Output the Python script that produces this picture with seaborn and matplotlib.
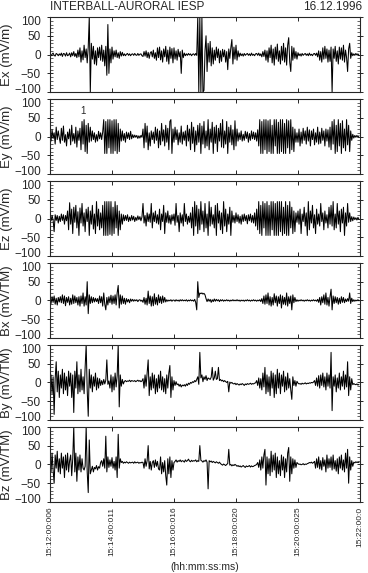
import numpy as np
import pandas as pd
import matplotlib
matplotlib.use("Agg")
import matplotlib.pyplot as plt
import matplotlib.transforms as mtransforms
import seaborn as sns
from matplotlib.ticker import MultipleLocator

# ---------------- data ----------------
panel_labels = ["Ex (mV/m)", "Ey (mV/m)", "Ez (mV/m)", "Bx (mV/TM)", "By (mV/TM)", "Bz (mV/TM)"]
time_tick_labels = ["15:12:00:006", "15:14:00:011", "15:16:00:016",
                    "15:18:00:020", "15:20:00:025", "15:22:00:0"]
time_tick_seconds = [0, 120, 240, 360, 480, 600]
sample_step_s = 2

ex = [2,-3,1,4,-2,-4,3,1,-3,2,
      -2,4,-5,3,2,-4,5,-3,-1,4,
      -6,5,-3,8,-5,3,-8,12,-6,18,
      -20,10,-14,25,-8,15,-22,20,100,-100,
      30,-12,22,-25,10,-28,18,-8,20,-15,
      25,-18,12,-30,22,-55,80,-50,15,-22,
      20,-12,10,-6,12,-8,5,-10,8,-4,
      6,-3,2,-3,1,3,-2,2,-3,1,
      2,-2,3,-1,-2,3,-2,1,2,-3,
      -5,8,-4,10,-8,6,-10,4,8,-6,
      12,-10,5,-15,18,-8,20,-14,10,-20,
      15,-6,22,-18,12,-25,20,-10,16,-22,
      18,-12,10,-15,14,-6,8,-50,12,-8,
      4,-3,2,-2,3,-1,2,-3,1,2,
      -2,3,-2,100,-100,100,-100,100,-100,-95,
      10,50,-45,30,-20,35,-30,18,-25,12,
      -15,20,-8,15,-22,10,-18,14,-6,12,
      -20,8,-40,15,-10,18,40,-25,20,-12,
      25,-15,10,-6,4,-3,2,-4,3,-2,
      1,3,-2,2,-3,4,-2,1,-3,2,
      3,-2,4,-3,2,-6,8,-5,12,-15,
      10,-20,18,-8,25,-22,15,-28,20,-12,
      28,-18,10,-25,22,-15,30,-20,18,-28,
      25,45,-20,-45,22,-15,18,-10,8,-12,
      5,-3,2,-4,3,-2,1,3,-2,2,
      -3,4,-2,1,-3,2,3,-2,4,-6,
      10,-15,8,-20,18,-12,22,-10,15,-20,
      12,-18,20,-100,15,-10,22,-18,10,-25,
      20,-12,18,-15,25,-20,12,-8,-45,15,
      30,-10,5,-3,2,-2,3,-1,2,-2]

ey = [3,-12,18,-5,10,-20,25,-8,15,-3,
      -18,22,-10,28,-15,5,-25,12,-6,20,
      -22,30,-12,8,-18,25,-28,15,-10,22,
      -35,40,-20,45,-40,30,-45,35,-15,25,
      -12,15,-8,10,-15,5,-12,14,-6,10,
      -8,12,45,-45,40,-45,45,-30,45,-45,
      42,-45,45,-38,45,-45,35,-40,20,-12,
      15,-10,8,-15,12,-5,10,-8,14,-6,
      5,-3,4,-2,3,-5,2,-4,3,-2,
      20,-30,35,-15,28,-35,10,-25,15,-8,
      12,-18,25,-10,20,-30,15,-22,35,-12,
      18,-25,30,-15,22,-35,40,45,-45,20,
      -15,25,-8,18,-22,10,-15,28,-20,12,
      -10,15,-25,30,-12,20,-35,38,-18,25,
      -40,15,-22,30,-15,35,-45,28,-20,40,
      -30,15,-25,45,-35,20,-15,38,-45,25,
      -18,30,-40,22,-12,35,-28,45,-30,15,
      -20,40,-45,25,-15,30,-22,18,-35,42,
      -25,20,-12,10,-8,15,-12,6,-10,14,
      -5,12,-15,8,-10,15,-6,12,-8,10,
      -12,18,-25,45,-45,40,-45,45,-35,45,
      -45,42,-40,45,-45,30,-45,45,-25,45,
      -45,38,-45,45,-40,45,-45,35,-45,45,
      -30,42,-45,45,-35,25,-40,20,-15,10,
      -15,20,-25,12,-18,22,-10,15,-20,25,
      -12,18,-25,15,-8,20,-22,10,-15,25,
      -20,12,-18,22,-10,15,-25,20,-12,18,
      -28,25,-35,40,-20,45,-45,30,-40,45,
      -25,35,-45,42,-30,20,-38,45,-22,30,
      -40,15,-10,6,-4,3,-2,3,-1,2]

ez = [3,-6,8,-4,-35,10,-5,8,-12,6,
      -8,12,-5,10,-15,8,-6,20,-30,42,
      -15,25,-40,30,-10,35,-25,18,-45,28,
      -12,40,-20,15,-35,25,-8,30,-45,20,
      -15,35,-28,12,-40,45,-20,25,-30,15,
      -25,35,-45,45,-45,45,-45,45,-42,45,
      -45,30,-40,45,-25,35,-45,20,-30,12,
      -15,10,-6,8,-5,10,-8,4,-6,8,
      -4,6,-8,3,-5,7,-3,5,-6,4,
      40,-12,8,-20,15,-8,12,-10,40,-25,
      15,-8,20,-12,10,-15,25,-30,12,-8,
      35,-40,15,-10,20,-12,8,-15,10,-6,
      12,-18,40,-10,8,-35,15,-12,10,-20,
      40,-8,12,-15,6,-10,15,-25,30,-45,
      45,-20,35,-40,25,-30,45,-15,20,-35,
      40,-25,12,-45,45,-20,30,-15,10,-25,
      35,-45,40,-12,20,-30,15,-40,45,-20,
      25,-35,12,-15,30,-45,20,-10,8,-12,
      15,-8,10,-12,6,-15,10,-8,12,-6,
      8,-14,10,-6,12,-10,8,-12,15,-20,
      25,-30,45,-40,35,-45,45,-25,40,-45,
      45,-45,35,-45,45,-30,45,-45,40,-45,
      45,-45,45,-35,45,-45,30,-40,45,-45,
      35,-45,45,-25,30,-40,20,-35,15,-10,
      20,-15,25,-40,12,-8,30,-20,15,-45,
      45,-30,20,-12,35,-25,10,-40,25,-15,
      12,-20,40,-8,15,-30,20,-12,10,-25,
      30,-15,35,-20,45,-30,12,-25,40,-15,
      20,-35,25,-12,30,-45,15,-20,40,-10,
      15,-8,5,-6,4,-3,2,-4,3,-2]

bx = [2,-8,10,-5,12,-10,6,-12,8,-4,
      10,-6,15,-8,12,-14,8,-5,10,-12,
      6,-10,15,-8,12,-6,8,-12,10,-15,
      12,-8,20,-15,10,-12,50,-35,15,-8,
      10,-6,8,-4,6,-3,5,-8,12,-6,
      10,-15,20,-10,-25,8,-12,10,-6,14,
      -10,12,-8,15,-12,20,40,-20,15,-10,
      12,-8,6,-10,5,-4,3,-6,4,-2,
      3,-2,2,-1,2,-3,1,2,-2,1,
      -5,8,-10,6,-12,25,-8,12,-15,10,
      -14,18,-10,8,-12,15,-6,10,-8,12,
      -5,8,-4,2,-2,1,-1,2,-2,1,
      1,-2,2,-1,1,-2,2,-1,2,-1,
      1,-1,2,-2,1,-1,2,-1,1,-2,
      3,-5,-25,50,8,20,18,20,17,19,
      15,5,-3,4,-2,3,-5,2,-3,4,
      -2,3,-1,2,-3,2,-1,2,-2,1,
      -1,2,-1,1,-2,1,-1,2,-1,1,
      -1,2,-1,1,-2,1,-1,1,-2,1,
      -1,2,-1,1,-2,1,-1,2,-1,1,
      -2,1,-1,2,-3,5,-8,12,-10,15,
      -8,20,-12,10,-15,8,-12,18,-6,12,
      -15,10,-8,15,-20,12,-10,8,-12,20,
      -15,10,-8,12,-25,15,-6,8,-3,2,
      -2,1,-1,2,-1,1,-2,1,-1,2,
      -1,1,-2,1,-1,2,-1,1,-2,3,
      -5,8,-12,10,-6,15,-10,20,-12,8,
      -15,10,30,-25,12,-8,10,-6,8,-10,
      6,-8,10,-5,8,-6,4,-3,5,-2,
      20,-8,6,-3,2,-2,1,-1,2,-1]

by = [-5,20,-30,15,-85,10,55,-25,30,-40,
      20,-15,35,-30,25,-20,15,-35,30,-10,
      25,-40,20,-80,30,-15,55,-30,20,-25,
      35,-20,15,-30,40,100,-20,-90,35,-15,
      20,-25,15,-10,25,-20,12,-15,10,-8,
      5,-6,8,-4,6,60,-5,4,-15,20,
      -25,15,-20,25,-12,18,100,-65,20,-10,
      8,-4,3,5,2,4,3,6,2,5,
      4,3,5,2,4,6,3,5,2,4,
      10,-15,20,-10,25,60,-35,15,-20,25,
      -15,20,-30,10,-25,20,-15,30,-20,15,
      -25,10,-30,20,-15,25,45,-40,15,-20,
      5,-8,2,-6,-4,-10,-5,-12,-7,-9,
      -6,-10,-4,-8,-2,-5,0,-2,2,0,
      5,2,8,15,-5,80,12,20,2,15,
      8,18,5,12,10,8,14,40,6,12,
      30,8,10,40,5,8,4,6,2,5,
      2,0,3,-25,1,-2,0,-3,-4,-2,
      -6,-3,-5,-7,-4,-6,-3,-5,-8,-4,
      -6,-3,-5,-4,-2,-5,-3,-4,-2,-1,
      5,-8,12,-15,10,-20,25,-12,40,-30,
      20,-25,15,-35,30,-15,25,-40,20,-30,
      35,-15,25,-30,20,-10,30,-25,15,-20,
      25,-15,10,-20,-45,15,-8,5,-10,3,
      -2,-4,-3,-5,-2,-4,-3,-1,-4,-2,
      -3,-1,-2,0,-1,1,5,-8,12,-10,
      18,-15,20,-8,25,-12,15,-20,25,-10,
      20,-15,80,-75,15,-10,20,-25,12,-15,
      25,-20,15,-10,30,-18,20,-12,55,-35,
      15,-20,10,-6,-3,-5,-6,-4,-7,-5]

bz = [10,-20,30,-15,-50,25,-10,35,-20,15,
      -25,30,-10,20,-35,25,-15,30,-20,10,
      25,-30,15,100,-20,30,-45,20,-15,25,
      -20,15,-10,-15,-5,100,-20,-75,65,-25,
      -15,-5,-20,-8,-12,-3,-15,-6,-10,5,
      10,-5,15,-10,75,-20,20,-8,12,-5,
      18,-10,8,-15,20,-35,80,-10,15,5,
      8,3,6,4,7,5,3,6,4,5,
      6,3,7,4,5,6,3,5,4,6,
      5,-10,15,-5,10,50,-12,8,-15,5,
      10,-8,12,-5,8,-12,-15,20,-25,5,
      -20,10,-30,-55,15,-25,20,-35,10,-15,
      5,8,12,6,10,8,12,7,10,9,
      6,12,8,10,14,9,7,11,8,10,
      9,12,7,10,8,50,11,9,6,10,
      8,12,6,-65,10,7,9,5,8,6,
      4,7,5,3,6,2,0,-2,1,-1,
      -3,0,2,40,-2,0,-4,-1,-3,0,
      -2,-5,-3,-6,-4,-7,-5,-3,-6,-8,
      -4,-6,-5,-3,-7,-4,-6,-5,-3,-2,
      0,5,-8,12,-15,20,-10,25,40,-55,
      20,-25,15,-30,35,-20,25,-15,30,-35,
      20,-25,10,-30,25,-15,20,-35,15,-20,
      30,45,-45,20,-25,15,-10,12,-8,5,
      2,0,1,-1,0,2,-1,1,0,2,
      3,5,4,6,3,5,8,-10,15,-8,
      20,-12,10,-15,18,-5,12,-20,25,-10,
      15,-8,20,-15,25,-12,10,-18,15,-25,
      20,-10,25,-15,12,-20,30,-10,40,-50,
      20,-15,10,-5,6,4,7,5,6,5]

series = [ex, ey, ez, bx, by, bz]
annotation_text = "1"
annotation_t, annotation_v = 64, 55

# ---------------- plotting ----------------
sns.set_theme(style="ticks")
plt.rcParams['font.family'] = ['Liberation Sans', 'DejaVu Sans']
plt.rcParams['axes.linewidth'] = 0.8

fig = plt.figure(figsize=(3.68, 5.73), dpi=100)
gs = fig.add_gridspec(6, 1, left=50/368, right=360/368,
                      top=1 - 17/573, bottom=1 - 502/573, hspace=0.09)

for i, (vals, lab) in enumerate(zip(series, panel_labels)):
    ax = fig.add_subplot(gs[i, 0])
    df = pd.DataFrame({"t": np.arange(len(vals)) * sample_step_s, "v": vals})
    sns.lineplot(data=df, x="t", y="v", ax=ax, color="black", linewidth=0.75,
                 estimator=None, sort=False)
    ax.set_xlim(time_tick_seconds[0], time_tick_seconds[-1])
    ax.set_ylim(-100, 100)
    ax.set_yticks([-100, -50, 0, 50, 100])
    ax.yaxis.set_minor_locator(MultipleLocator(10))
    ax.set_xticks(time_tick_seconds)
    ax.tick_params(axis='y', which='major', direction='inout', length=5, width=0.7,
                   labelsize=8.5, pad=4, right=True)
    ax.tick_params(axis='y', which='minor', direction='in', length=2.5, width=0.5,
                   right=True)
    ax.tick_params(axis='x', which='major', direction='in', length=3, width=0.7,
                   top=True, labelsize=6)
    ax.set_ylabel(lab, fontsize=9.5, labelpad=2)
    ax.set_xlabel("")
    if i < 5:
        ax.set_xticklabels([])
    else:
        ax.set_xticklabels(time_tick_labels, rotation=90)
        ax.set_xlabel("(hh:mm:ss:ms)", fontsize=7.5, labelpad=4)
    if i == 1:
        ax.text(annotation_t, annotation_v, annotation_text, fontsize=7,
                ha='center', va='bottom')
    for sp in ax.spines.values():
        sp.set_visible(True)
    ax.yaxis.set_label_coords(-0.118, 0.5)
    # nudge the end labels slightly inward so stacked panels don't collide
    ylabels = ax.get_yticklabels()
    ylabels[0].set_transform(ylabels[0].get_transform() +
                             mtransforms.ScaledTranslation(0, 2.5/72, fig.dpi_scale_trans))
    ylabels[-1].set_transform(ylabels[-1].get_transform() +
                              mtransforms.ScaledTranslation(0, -2.5/72, fig.dpi_scale_trans))

fig.text(50/368, 1 - 7/573, "INTERBALL-AURORAL IESP", fontsize=8.5,
         ha='left', va='center')
fig.text(362/368, 1 - 7/573, "16.12.1996", fontsize=8.5, ha='right', va='center')

fig.savefig("out.png", dpi=100)
